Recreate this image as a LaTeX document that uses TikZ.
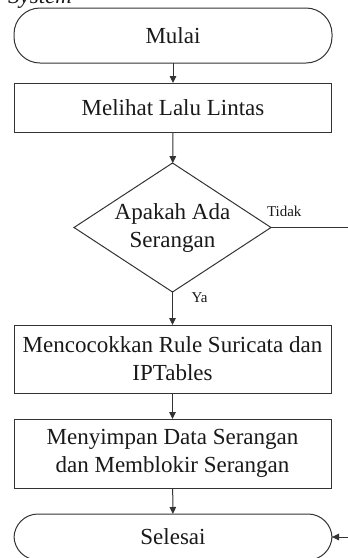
\documentclass[tikz,border=0pt]{standalone}
\usepackage{fontspec}
\setmainfont{Liberation Serif}
\usetikzlibrary{shapes.geometric,arrows.meta}
\begin{document}
\begin{tikzpicture}[x=1pt,y=-1pt,
  every node/.style={inner sep=0pt,outer sep=0pt,text=black!90},
  linecol/.style={draw=black!80,line width=1pt},
  term/.style={linecol,rounded corners=26pt,minimum width=318pt,minimum height=55pt,
    font=\fontsize{23}{28}\selectfont},
  proc/.style={linecol,minimum width=317pt,font=\fontsize{23}{28}\selectfont,align=center},
  decision/.style={linecol,diamond,minimum width=197pt,minimum height=129pt,aspect=1.5,
    font=\fontsize{23}{28}\selectfont,align=center},
  flow/.style={linecol,-{Triangle[length=7pt,width=6.5pt]}},
  small/.style={font=\fontsize{15}{18}\selectfont}]
\useasboundingbox (0,0) rectangle (348,558);
% caption fragment above the chart
\node[anchor=base east,font=\fontsize{23}{28}\selectfont\itshape] (cap) at (72,3) {System};
% chart nodes
\node[term] (start) at (173,35.5) {Mulai};
\node[proc,minimum height=49pt] (view) at (173,107.5) {Melihat Lalu Lintas};
\node[decision] (check) at (172.5,227.5) {Apakah Ada\\Serangan};
\node[proc,minimum height=68pt] (match) at (172.5,359) {Mencocokkan Rule Suricata dan\\IPTables};
\node[proc,minimum height=69pt] (store) at (172.5,453.5) {Menyimpan Data Serangan\\dan Memblokir Serangan};
\node[term,minimum height=46pt,rounded corners=24pt] (stop) at (173,537) {Selesai};
% connectors
\draw[flow] (start) -- (view);
\draw[flow] (view) -- (check);
\draw[flow] (check) -- node[pos=0,anchor=base west,xshift=19pt,yshift=-10pt,small] (ya) {Ya} (match);
\draw[flow] (match) -- (store);
\draw[flow] (store) -- (stop);
\coordinate (turn) at (349,227.5);
\draw[flow] (check.east) -- node[pos=0,anchor=base west,xshift=-4pt,yshift=11pt,small] (tidak) {Tidak} (turn) |- (stop.east);
\end{tikzpicture}
\end{document}
